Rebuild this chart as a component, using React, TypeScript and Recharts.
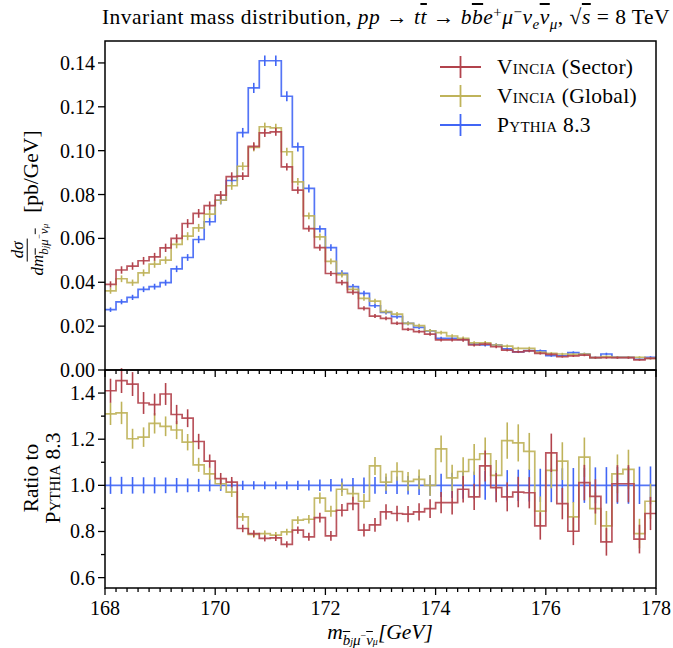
import React from "react";
import { ComposedChart, Line, Scatter, ErrorBar, XAxis, YAxis } from "recharts";

// bins: 168..178 GeV, 0.2 GeV wide
const binStart = 168;
const binWidth = 0.2;

const pythia = [
  0.0275, 0.0311, 0.0331, 0.0368, 0.038, 0.0398, 0.0461, 0.0513, 0.0595, 0.0676,
  0.0774, 0.0864, 0.1082, 0.1286, 0.141, 0.141, 0.1248, 0.1017, 0.0828, 0.0643,
  0.0558, 0.0441, 0.038, 0.0349, 0.0293, 0.0263, 0.0243, 0.0213, 0.0194, 0.0178,
  0.0144, 0.0144, 0.014, 0.0118, 0.0114, 0.0114, 0.0096, 0.0083, 0.0088, 0.0087,
  0.0065, 0.0065, 0.0079, 0.0073, 0.0056, 0.0073, 0.0058, 0.0058, 0.0049, 0.0058,
];
const vinciaSector = [
  0.039, 0.0456, 0.0474, 0.0498, 0.0516, 0.0557, 0.06, 0.0668, 0.0714, 0.0749,
  0.0797, 0.0882, 0.0884, 0.102, 0.1081, 0.1086, 0.0926, 0.082, 0.0645, 0.0558,
  0.044, 0.0398, 0.0354, 0.0281, 0.0246, 0.0235, 0.0213, 0.0185, 0.0175, 0.0164,
  0.0137, 0.0137, 0.0137, 0.0114, 0.0118, 0.0106, 0.0091, 0.0083, 0.0087, 0.0076,
  0.0071, 0.0061, 0.0064, 0.0068, 0.0056, 0.0056, 0.0056, 0.0056, 0.0046, 0.0053,
];
const vinciaGlobal = [
  0.0361, 0.0416, 0.0398, 0.0443, 0.0483, 0.0501, 0.0573, 0.061, 0.0648, 0.0711,
  0.0774, 0.084, 0.0929, 0.1015, 0.1109, 0.1104, 0.0995, 0.0858, 0.0703, 0.0607,
  0.0495, 0.0435, 0.0368, 0.0327, 0.0314, 0.0266, 0.0255, 0.0213, 0.0202, 0.0179,
  0.017, 0.0155, 0.0144, 0.0124, 0.0124, 0.0114, 0.0109, 0.0099, 0.0099, 0.0081,
  0.0076, 0.0073, 0.0071, 0.0073, 0.0056, 0.0061, 0.0058, 0.0058, 0.0058, 0.0053,
];
const ratioSector = [
  1.41, 1.454, 1.439, 1.357, 1.35, 1.396, 1.307, 1.291, 1.19, 1.105,
  1.029, 1.014, 0.813, 0.791, 0.77, 0.772, 0.744, 0.806, 0.777, 0.86,
  0.781, 0.892, 0.921, 0.806, 0.829, 0.885, 0.878, 0.875, 0.885, 0.899,
  0.925, 0.925, 0.983, 0.95, 1.084, 0.99, 0.95, 0.971, 0.968, 0.824,
  1.141, 0.921, 0.801, 1.012, 0.952, 0.755, 1.007, 1.007, 0.767, 0.878,
];
const ratioGlobal = [
  1.31, 1.314, 1.202, 1.209, 1.269, 1.256, 1.24, 1.187, 1.089, 1.05,
  1.007, 0.971, 0.863, 0.787, 0.791, 0.784, 0.798, 0.849, 0.853, 0.945,
  0.888, 0.983, 0.964, 0.931, 1.084, 1.014, 1.06, 1.017, 1.026, 1.0,
  1.158, 1.032, 1.06, 1.112, 1.137, 1.043, 1.194, 1.184, 1.147, 0.888,
  1.065, 1.105, 0.863, 1.122, 0.899, 0.824, 1.05, 1.069, 0.791, 0.931,
];
// relative stat. uncertainty per bin
const relErr = [
  0.037, 0.037, 0.036, 0.035, 0.035, 0.034, 0.032, 0.03, 0.028, 0.026,
  0.024, 0.022, 0.02, 0.018, 0.017, 0.017, 0.018, 0.02, 0.022, 0.025,
  0.027, 0.03, 0.032, 0.034, 0.036, 0.037, 0.038, 0.04, 0.042, 0.045,
  0.05, 0.055, 0.058, 0.06, 0.062, 0.064, 0.066, 0.068, 0.07, 0.072,
  0.073, 0.074, 0.075, 0.076, 0.078, 0.079, 0.08, 0.08, 0.081, 0.082,
];

const topTicks = [0, 0.02, 0.04, 0.06, 0.08, 0.1, 0.12, 0.14];
const ratioTicks = [0.6, 0.7, 0.8, 0.9, 1.0, 1.1, 1.2, 1.3, 1.4];
const ratioLabels = [0.6, 0.8, 1.0, 1.2, 1.4];

const RED = "#b2434c";
const GOLD = "#bfb35a";
const BLUE = "#4166f5";
const FONT = "Liberation Serif, DejaVu Serif, serif";
const FS = 20;
const TS = 21.5; // text size for words

const edges = Array.from({ length: pythia.length + 1 }, (_, i) =>
  Math.round((binStart + i * binWidth) * 10) / 10
);

const stepData = (vals: number[]) =>
  edges.map((x, i) => ({ x, y: vals[Math.min(i, vals.length - 1)] }));

const barData = (vals: number[]) =>
  vals.map((y, i) => ({ x: edges[i] + binWidth / 2, y, e: y * relErr[i] }));

const series = (key: string, vals: number[], color: string) => [
  <Line
    key={key + "-l"}
    data={stepData(vals)}
    dataKey="y"
    type="stepAfter"
    stroke={color}
    strokeWidth={1.7}
    strokeOpacity={0.9}
    dot={false}
    activeDot={false}
    isAnimationActive={false}
  />,
  <Scatter
    key={key + "-e"}
    data={barData(vals)}
    dataKey="y"
    shape={() => <g />}
    isAnimationActive={false}
  >
    <ErrorBar dataKey="e" direction="y" width={0} stroke={color} strokeWidth={1.6} isAnimationActive={false} />
  </Scatter>,
];

const XTick = (props: any) => {
  const { x, y, payload, showLabel } = props;
  const v = payload.value;
  const major = Math.abs(v / 2 - Math.round(v / 2)) < 1e-6;
  return (
    <g>
      <line x1={x} x2={x} y1={y} y2={y + (major ? 7 : 4)} stroke="#000" strokeWidth={1.3} />
      {showLabel && major && (
        <text x={x} y={y + 27} textAnchor="middle" fontSize={FS} fontFamily={FONT} fill="#000">
          {v}
        </text>
      )}
    </g>
  );
};

const YTick = (props: any) => {
  const { x, y, payload, labels, digits } = props;
  const v = payload.value;
  const major = labels.some((l: number) => Math.abs(l - v) < 1e-6);
  return (
    <g>
      <line x1={x - (major ? 7 : 4)} x2={x} y1={y} y2={y} stroke="#000" strokeWidth={1.3} />
      {major && (
        <text x={x - 10} y={y + 7} textAnchor="end" fontSize={FS} fontFamily={FONT} fill="#000">
          {v.toFixed(digits)}
        </text>
      )}
    </g>
  );
};

const sc: React.CSSProperties = { fontVariant: "small-caps" };
const over: React.CSSProperties = { textDecoration: "overline" };
const subS: React.CSSProperties = { fontSize: "0.7em", verticalAlign: "-0.3em", lineHeight: 0 };
const supS: React.CSSProperties = { fontSize: "0.7em", verticalAlign: "0.45em", lineHeight: 0 };

const legendRows = [
  { label: "Vincia", extra: " (Sector)", color: RED },
  { label: "Vincia", extra: " (Global)", color: GOLD },
  { label: "Pythia", extra: " 8.3", color: BLUE },
];

export default function App() {
  const ratioPythia = pythia.map((v) => v / v);
  return (
    <div style={{ position: "absolute", left: 0, top: 0, width: 673, height: 648, background: "#fff", fontFamily: FONT, color: "#000" }}>
      <div style={{ position: "absolute", left: 0, top: 0 }}>
        <ComposedChart width={673} height={380} margin={{ top: 41, right: 17, bottom: 0, left: 0 }}>
          <XAxis
            type="number"
            dataKey="x"
            domain={[168, 178]}
            ticks={edges}
            interval={0}
            allowDataOverflow
            axisLine={false}
            tickLine={false}
            tickSize={0}
            tickMargin={0}
            height={10}
            tick={(p: any) => <XTick {...p} showLabel={false} />}
          />
          <YAxis
            type="number"
            domain={[0, 0.15]}
            ticks={topTicks}
            interval={0}
            allowDataOverflow
            axisLine={false}
            tickLine={false}
            tickSize={0}
            tickMargin={0}
            width={105}
            tick={(p: any) => <YTick {...p} labels={topTicks} digits={2} />}
          />
          {series("pythia", pythia, BLUE)}
          {series("global", vinciaGlobal, GOLD)}
          {series("sector", vinciaSector, RED)}
        </ComposedChart>
      </div>
      <div style={{ position: "absolute", left: 0, top: 360 }}>
        <ComposedChart width={673} height={288} margin={{ top: 10, right: 17, bottom: 20, left: 0 }}>
          <XAxis
            type="number"
            dataKey="x"
            domain={[168, 178]}
            ticks={edges}
            interval={0}
            allowDataOverflow
            axisLine={false}
            tickLine={false}
            tickSize={0}
            tickMargin={0}
            height={40}
            tick={(p: any) => <XTick {...p} showLabel />}
          />
          <YAxis
            type="number"
            domain={[0.555, 1.5]}
            ticks={ratioTicks}
            interval={0}
            allowDataOverflow
            axisLine={false}
            tickLine={false}
            tickSize={0}
            tickMargin={0}
            width={105}
            tick={(p: any) => <YTick {...p} labels={ratioLabels} digits={1} />}
          />
          {series("rpythia", ratioPythia, BLUE)}
          {series("rglobal", ratioGlobal, GOLD)}
          {series("rsector", ratioSector, RED)}
        </ComposedChart>
      </div>

      <svg width={673} height={648} style={{ position: "absolute", left: 0, top: 0, pointerEvents: "none" }}>
        <rect x={105} y={41} width={551} height={329} fill="none" stroke="#000" strokeWidth={1.5} />
        <rect x={105} y={370} width={551} height={218} fill="none" stroke="#000" strokeWidth={1.5} />
        {legendRows.map((r, i) => {
          const y = 67 + i * 29;
          return (
            <g key={i} stroke={r.color} strokeWidth={1.8}>
              <line x1={440} x2={481} y1={y} y2={y} />
              <line x1={460.5} x2={460.5} y1={y - 11} y2={y + 11} />
            </g>
          );
        })}
      </svg>

      {legendRows.map((r, i) => (
        <div key={i} style={{ position: "absolute", left: 497, top: 67 + i * 29 - 14, fontSize: TS, letterSpacing: 0.3, lineHeight: "28px", whiteSpace: "nowrap" }}>
          <span style={sc}>{r.label}</span>
          {r.extra}
        </div>
      ))}

      <div style={{ position: "absolute", left: 386, top: 4, transform: "translateX(-50%)", fontSize: TS, letterSpacing: 0.5, whiteSpace: "nowrap", lineHeight: "26px" }}>
        Invariant mass distribution, <i>pp</i> → <i>t</i><i style={over}>t</i> → <i>b</i><i style={over}>b</i><i>e</i>
        <span style={supS}>+</span><i>μ</i><span style={supS}>−</span><i>ν</i><i style={subS}>e</i><i style={over}>ν</i>
        <i style={subS}>μ</i>, √<i style={over}>s</i> = 8 TeV
      </div>

      <div style={{ position: "absolute", left: 31, top: 204, transform: "translate(-50%, -50%) rotate(-90deg)", fontSize: TS, whiteSpace: "nowrap", display: "flex", alignItems: "center" }}>
        <span style={{ display: "inline-flex", flexDirection: "column", alignItems: "center", fontSize: 17, marginRight: 9 }}>
          <span style={{ borderBottom: "1px solid #000", padding: "0 3px", lineHeight: "19px" }}>
            <i>dσ</i>
          </span>
          <span style={{ padding: "0 2px", lineHeight: "20px" }}>
            <i>dm</i>
            <span style={{ fontSize: 13, verticalAlign: "-0.35em" }}>
              <i style={over}>b</i><i style={{ fontSize: 9 }}>j</i><i>μ</i><sup style={{ fontSize: 9 }}>−</sup><i style={over}>ν</i><i style={{ fontSize: 9 }}>μ</i>
            </span>
          </span>
        </span>
        <span>[pb/GeV]</span>
      </div>

      <div style={{ position: "absolute", left: 42, top: 478, transform: "translate(-50%, -50%) rotate(-90deg)", fontSize: TS, whiteSpace: "nowrap", textAlign: "center", lineHeight: "22px" }}>
        <div>Ratio to</div>
        <div><span style={sc}>Pythia</span> 8.3</div>
      </div>

      <div style={{ position: "absolute", left: 380, top: 619, transform: "translateX(-50%)", fontSize: TS, whiteSpace: "nowrap", lineHeight: "26px" }}>
        <i>m</i>
        <span style={{ fontSize: 15, verticalAlign: "-0.4em" }}>
          <i style={over}>b</i><i style={{ fontSize: 10 }}>j</i><i>μ</i><sup style={{ fontSize: 10 }}>−</sup><i style={over}>ν</i><i style={{ fontSize: 10 }}>μ</i>
        </span>
        <i>[GeV]</i>
      </div>
    </div>
  );
}
